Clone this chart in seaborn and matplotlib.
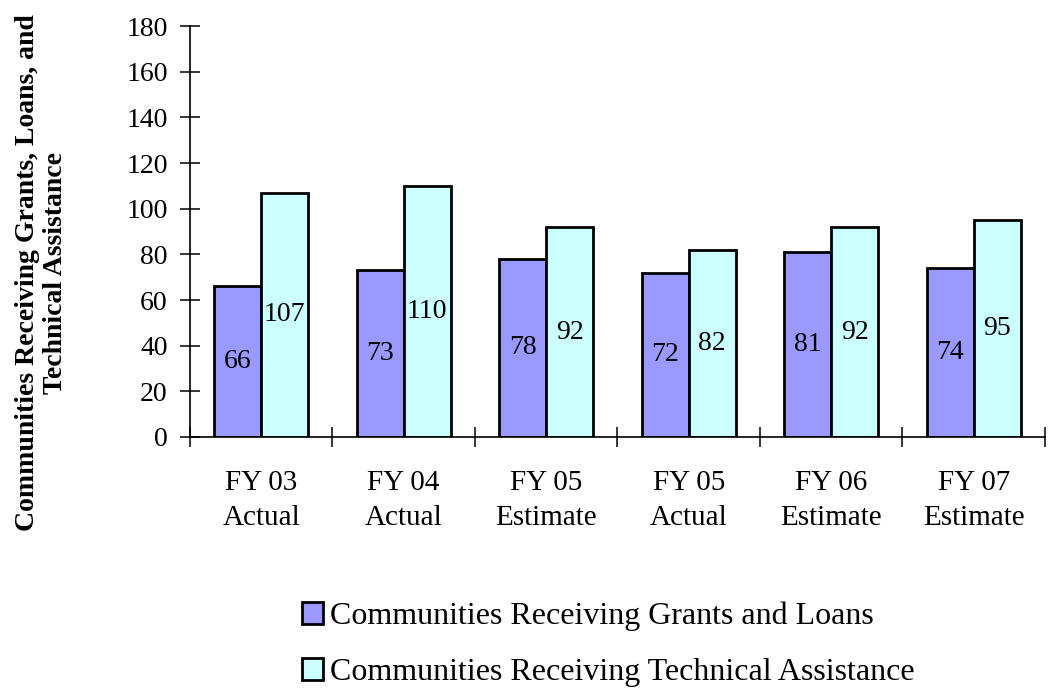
import matplotlib
matplotlib.use("Agg")
import matplotlib.pyplot as plt
import seaborn as sns
import pandas as pd
import numpy as np

categories = ["FY 03\nActual", "FY 04\nActual", "FY 05\nEstimate", "FY 05\nActual", "FY 06\nEstimate", "FY 07\nEstimate"]
grants_loans = [66, 73, 78, 72, 81, 74]
tech_assist = [107, 110, 92, 82, 92, 95]
series_names = ["Communities Receiving Grants and Loans", "Communities Receiving Technical Assistance"]
colors = ["#9999FF", "#CCFFFF"]

df = pd.DataFrame({
    "cat": categories * 2,
    "value": grants_loans + tech_assist,
    "series": [series_names[0]] * len(categories) + [series_names[1]] * len(categories),
})

sns.set_style("white")
plt.rcParams['font.family'] = ['Liberation Serif', 'DejaVu Serif']
plt.rcParams.update({"text.color": "black", "axes.labelcolor": "black",
                     "xtick.color": "black", "ytick.color": "black"})

fig = plt.figure(figsize=(10.55, 6.9), dpi=100)
ax = fig.add_axes([0.18, 0.3667, 0.8105, 0.5953])

sns.barplot(data=df, x="cat", y="value", hue="series", palette=colors, saturation=1,
            width=0.66, edgecolor="black", linewidth=2.0, ax=ax, legend=True)

for c in ax.containers:
    ax.bar_label(c, label_type="center", fontsize=20, color="black")

ax.set_ylim(0, 180)
ax.set_yticks(np.arange(0, 181, 20))
ax.set_xlim(-0.5, len(categories) - 0.5)
ax.set_xlabel("")
ax.set_ylabel("Communities Receiving Grants, Loans, and\nTechnical Assistance",
              fontsize=20, fontweight="bold", linespacing=1.15)
ax.yaxis.label.set_va("center")
ax.yaxis.set_label_coords(-0.174, 0.40)

for s in ["top", "right"]:
    ax.spines[s].set_visible(False)
for s in ["left", "bottom"]:
    ax.spines[s].set_color("black")
    ax.spines[s].set_linewidth(1.2)

ax.tick_params(axis="y", which="major", direction="inout", length=14, width=1.1,
               labelsize=20, pad=9, left=True)
ax.tick_params(axis="x", which="major", length=0, labelsize=21, pad=24)
ax.set_xticks(np.arange(-0.5, len(categories) - 0.4, 1), minor=True)
ax.tick_params(axis="x", which="minor", direction="inout", length=14, width=1.1, bottom=True)
for lbl in ax.get_xticklabels():
    lbl.set_linespacing(1.42)

handles, labels = ax.get_legend_handles_labels()
ax.legend_.remove()
fig.legend(handles, labels, loc="center left", bbox_to_anchor=(0.286, 0.066), ncol=1,
           frameon=False, fontsize=23, handlelength=0.66, handleheight=0.66,
           handletextpad=0.22, labelspacing=0.85, borderpad=0, borderaxespad=0)

fig.savefig("out.png", dpi=100)
